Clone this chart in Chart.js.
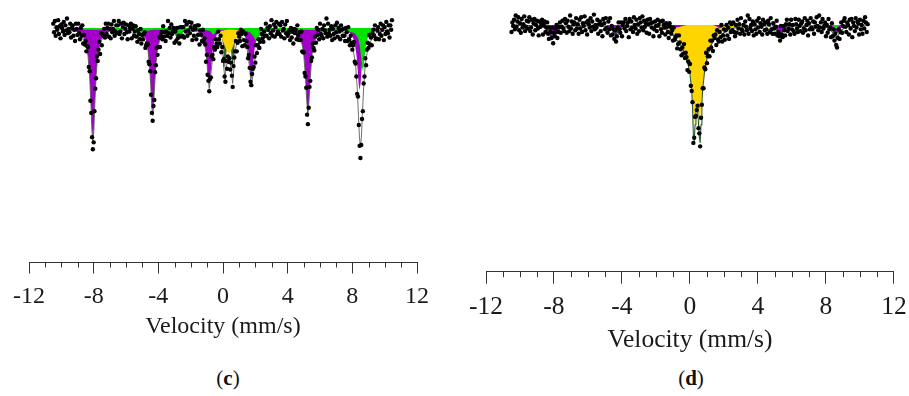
<!DOCTYPE html>
<html><head><meta charset="utf-8">
<script src="https://cdn.jsdelivr.net/npm/chart.js@4.4.1/dist/chart.umd.min.js"></script>
<style>
html,body{margin:0;padding:0;background:#fff;width:909px;height:396px;overflow:hidden;position:relative;}
canvas{position:absolute;top:0;}
#cc{left:0;}
#cd{left:455px;}
.cap{position:absolute;font-family:'Liberation Serif','Times New Roman',serif;font-size:21px;color:#111;transform:translate(-50%,-50%);white-space:nowrap;}
</style></head><body>
<canvas id="cc" width="450" height="360"></canvas>
<canvas id="cd" width="460" height="360"></canvas>
<div class="cap" style="left:228px;top:378px">(<b>c</b>)</div>
<div class="cap" style="left:691px;top:378px">(<b>d</b>)</div>
<script>
// ---- tick labels (mm/s) ----
const majorTicks = [-12, -8, -4, 0, 4, 8, 12];

// ---- channel velocities (mm/s), shared by both spectra ----
const velocity = [
-10.5,-10.45,-10.4,-10.35,-10.3,-10.25,-10.2,-10.15,-10.1,-10.05,-10,-9.95,-9.9,-9.85,-9.8,-9.75,-9.7,-9.65,-9.6,-9.55,
-9.5,-9.45,-9.4,-9.35,-9.3,-9.25,-9.2,-9.15,-9.1,-9.05,-9,-8.95,-8.9,-8.85,-8.8,-8.75,-8.7,-8.65,-8.6,-8.55,
-8.5,-8.45,-8.4,-8.35,-8.3,-8.25,-8.2,-8.15,-8.1,-8.05,-8,-7.95,-7.9,-7.85,-7.8,-7.75,-7.7,-7.65,-7.6,-7.55,
-7.5,-7.45,-7.4,-7.35,-7.3,-7.25,-7.2,-7.15,-7.1,-7.05,-7,-6.95,-6.9,-6.85,-6.8,-6.75,-6.7,-6.65,-6.6,-6.55,
-6.5,-6.45,-6.4,-6.35,-6.3,-6.25,-6.2,-6.15,-6.1,-6.05,-6,-5.95,-5.9,-5.85,-5.8,-5.75,-5.7,-5.65,-5.6,-5.55,
-5.5,-5.45,-5.4,-5.35,-5.3,-5.25,-5.2,-5.15,-5.1,-5.05,-5,-4.95,-4.9,-4.85,-4.8,-4.75,-4.7,-4.65,-4.6,-4.55,
-4.5,-4.45,-4.4,-4.35,-4.3,-4.25,-4.2,-4.15,-4.1,-4.05,-4,-3.95,-3.9,-3.85,-3.8,-3.75,-3.7,-3.65,-3.6,-3.55,
-3.5,-3.45,-3.4,-3.35,-3.3,-3.25,-3.2,-3.15,-3.1,-3.05,-3,-2.95,-2.9,-2.85,-2.8,-2.75,-2.7,-2.65,-2.6,-2.55,
-2.5,-2.45,-2.4,-2.35,-2.3,-2.25,-2.2,-2.15,-2.1,-2.05,-2,-1.95,-1.9,-1.85,-1.8,-1.75,-1.7,-1.65,-1.6,-1.55,
-1.5,-1.45,-1.4,-1.35,-1.3,-1.25,-1.2,-1.15,-1.1,-1.05,-1,-0.95,-0.9,-0.85,-0.8,-0.75,-0.7,-0.65,-0.6,-0.55,
-0.5,-0.45,-0.4,-0.35,-0.3,-0.25,-0.2,-0.15,-0.1,-0.05,0,0.05,0.1,0.15,0.2,0.25,0.3,0.35,0.4,0.45,
0.5,0.55,0.6,0.65,0.7,0.75,0.8,0.85,0.9,0.95,1,1.05,1.1,1.15,1.2,1.25,1.3,1.35,1.4,1.45,
1.5,1.55,1.6,1.65,1.7,1.75,1.8,1.85,1.9,1.95,2,2.05,2.1,2.15,2.2,2.25,2.3,2.35,2.4,2.45,
2.5,2.55,2.6,2.65,2.7,2.75,2.8,2.85,2.9,2.95,3,3.05,3.1,3.15,3.2,3.25,3.3,3.35,3.4,3.45,
3.5,3.55,3.6,3.65,3.7,3.75,3.8,3.85,3.9,3.95,4,4.05,4.1,4.15,4.2,4.25,4.3,4.35,4.4,4.45,
4.5,4.55,4.6,4.65,4.7,4.75,4.8,4.85,4.9,4.95,5,5.05,5.1,5.15,5.2,5.25,5.3,5.35,5.4,5.45,
5.5,5.55,5.6,5.65,5.7,5.75,5.8,5.85,5.9,5.95,6,6.05,6.1,6.15,6.2,6.25,6.3,6.35,6.4,6.45,
6.5,6.55,6.6,6.65,6.7,6.75,6.8,6.85,6.9,6.95,7,7.05,7.1,7.15,7.2,7.25,7.3,7.35,7.4,7.45,
7.5,7.55,7.6,7.65,7.7,7.75,7.8,7.85,7.9,7.95,8,8.05,8.1,8.15,8.2,8.25,8.3,8.35,8.4,8.45,
8.5,8.55,8.6,8.65,8.7,8.75,8.8,8.85,8.9,8.95,9,9.05,9.1,9.15,9.2,9.25,9.3,9.35,9.4,9.45,
9.5,9.55,9.6,9.65,9.7,9.75,9.8,9.85,9.9,9.95,10,10.05,10.1,10.15,10.2,10.25,10.3,10.35,10.4,10.45
];

// ---- measured relative transmission (%), spectrum (c) ----
const transmissionC = [
100.5,99.5,100.8,99.1,100.1,99.8,100.9,99.3,100.2,98.8,100.4,100.0,99.6,100.7,99.2,100.3,99.7,101.1,99.4,99.9,
99.5,100.5,98.9,100.0,100.3,99.1,99.8,98.5,100.5,99.9,99.2,100.5,99.4,98.7,100.0,99.1,100.3,98.2,99.2,98.1,
98.5,97.3,97.9,97.8,95.5,95.0,91.6,90.2,87.4,86.0,86.8,90.4,93.0,94.2,96.7,96.2,97.5,98.4,97.0,99.4,
98.0,99.3,99.1,99.9,98.9,100.5,99.3,100.0,100.5,99.0,99.9,98.8,100.4,99.5,99.9,100.8,99.1,99.6,100.3,99.4,
100.3,100.8,99.3,99.6,100.5,98.8,100.1,100.6,99.3,99.9,100.4,99.5,98.7,100.3,99.6,100.0,100.5,98.8,99.9,100.3,
99.1,99.6,100.2,99.0,98.4,99.7,99.3,98.7,99.9,98.2,99.2,98.7,99.3,99.5,97.7,98.0,98.2,98.1,96.1,95.8,
95.0,92.3,90.2,89.3,91.0,91.7,94.9,95.7,97.7,96.9,97.8,98.9,97.8,99.1,99.5,98.7,100.2,99.0,99.5,98.5,
99.6,99.1,100.8,99.4,100.0,98.9,100.4,99.3,99.6,100.0,98.3,99.6,98.5,100.0,98.8,99.1,98.2,100.1,99.0,100.1,
99.1,100.1,98.9,100.8,99.6,100.4,99.1,99.7,100.7,99.4,100.1,100.6,98.6,99.8,99.1,100.2,99.9,98.7,100.3,99.2,
100.3,98.1,99.7,99.2,98.5,99.8,98.4,98.8,98.1,96.1,96.9,94.6,93.9,92.7,94.1,94.3,96.7,96.9,96.4,97.8,
97.5,98.7,98.2,97.8,99.6,98.7,98.2,99.1,97.2,97.8,96.2,96.4,94.4,93.8,96.2,95.3,96.7,96.1,96.5,95.2,
96.0,94.5,93.2,95.6,96.6,97.3,98.5,97.3,98.3,99.4,99.0,98.5,99.8,99.3,97.9,99.6,98.6,98.0,99.3,98.5,
97.8,96.5,96.9,95.4,93.8,93.4,94.7,95.3,95.5,96.7,96.0,98.0,97.1,98.0,98.7,97.7,98.4,99.9,99.3,98.8,
98.4,99.6,99.1,100.5,99.1,100.0,99.8,98.8,100.2,99.4,100.9,99.1,99.7,100.4,99.0,100.1,100.7,99.3,99.6,100.5,
99.3,100.3,99.0,100.7,99.7,99.9,98.8,100.4,99.4,100.8,99.1,99.4,99.7,98.6,100.0,98.9,99.6,98.2,99.9,99.4,
99.8,98.7,100.3,99.1,98.6,99.5,98.6,99.6,97.3,97.2,97.2,94.8,94.4,93.1,90.0,88.9,90.8,93.2,93.9,96.2,
96.6,98.2,97.7,97.4,99.0,98.3,100.0,99.2,99.8,98.7,100.5,99.3,99.1,99.9,98.8,100.3,99.7,99.4,101.1,99.0,
100.5,99.4,99.8,99.1,100.2,98.6,99.9,99.3,98.8,100.3,99.5,100.6,99.0,100.0,99.6,98.7,100.3,99.8,99.1,99.9,
99.1,98.5,100.0,99.5,98.5,100.1,98.7,98.0,99.1,98.3,97.5,98.0,98.4,96.1,95.9,94.4,92.4,92.1,88.8,86.4,
85.0,86.5,89.5,90.4,93.6,94.4,96.5,95.7,97.5,98.3,97.7,99.2,98.1,98.9,98.0,99.4,99.8,99.1,100.3,98.7,
98.8,99.7,100.1,98.7,99.3,100.5,99.1,99.8,100.3,98.6,100.1,99.3,100.7,99.6,99.4,100.3,98.9,100.3,99.8,100.9
];

// ---- measured relative transmission (%), spectrum (d) ----
const transmissionD = [
99.2,100.3,99.9,100.6,99.5,101.1,99.8,100.4,100.9,99.4,100.2,99.1,100.7,99.7,100.1,101.0,99.3,99.8,100.5,99.6,
100.4,100.9,99.3,99.7,100.6,98.9,100.2,100.7,99.4,100.0,100.5,99.6,98.8,100.4,99.8,100.2,100.6,98.9,100.0,100.4,
99.2,99.7,100.3,99.0,98.4,99.7,99.2,98.5,99.7,97.9,99.1,98.7,99.6,100.0,98.5,99.2,99.8,100.3,99.1,99.8,
100.5,99.6,99.3,100.7,100.2,99.1,100.5,99.8,99.3,101.1,99.6,100.4,99.0,100.1,100.3,99.4,100.8,99.6,100.1,99.0,
100.6,99.6,100.9,99.2,100.2,99.9,101.0,99.4,100.3,98.9,100.5,100.1,99.7,100.8,99.3,100.4,99.8,101.2,99.5,100.0,
99.7,100.6,99.0,100.1,100.4,99.3,100.0,98.7,100.7,100.2,99.5,100.8,99.7,99.1,100.4,99.5,100.8,98.8,99.9,98.9,
99.5,98.4,99.4,98.1,98.7,99.7,100.3,99.5,99.1,100.3,98.7,100.0,100.3,99.6,100.7,99.3,99.9,100.3,98.6,100.7,
99.5,100.4,99.7,99.2,100.9,100.0,99.6,100.6,99.0,100.1,99.3,100.8,100.3,99.7,101.0,99.4,100.5,99.8,100.2,99.1,
100.6,100.1,99.0,100.7,100.2,99.7,100.3,98.7,99.5,100.4,99.9,99.3,100.6,100.0,98.7,100.4,99.5,99.1,100.5,100.0,
99.7,98.9,100.2,99.8,99.2,98.5,100.2,99.8,99.0,99.4,98.2,99.7,98.3,98.6,98.8,97.3,97.8,98.8,98.0,97.2,
96.5,97.4,96.7,97.8,96.2,96.8,96.3,94.8,95.8,94.6,95.5,93.0,92.4,91.1,86.4,87.0,89.4,89.5,90.2,90.7,
88.1,87.5,86.0,89.3,90.8,92.7,92.7,95.1,94.9,96.8,95.6,96.4,97.2,96.4,98.2,97.4,98.2,97.0,98.8,98.5,
98.9,97.7,99.4,98.3,98.1,99.2,98.6,100.0,98.1,98.8,99.5,98.3,99.4,100.0,98.8,99.7,98.4,100.3,99.2,100.1,
99.4,100.3,99.2,98.7,100.0,99.1,100.6,99.6,100.1,99.0,100.8,99.5,99.3,100.0,98.9,100.4,99.8,99.4,101.1,99.0,
100.7,99.6,100.0,99.3,100.4,98.8,100.1,99.5,99.0,100.5,99.7,100.8,99.2,100.2,99.8,98.9,100.6,100.1,99.4,100.3,
99.5,99.0,100.5,100.1,99.2,100.8,99.5,99.0,100.2,99.6,99.0,99.8,100.5,98.8,99.2,98.7,98.2,99.9,98.9,98.6,
99.9,99.4,98.8,100.1,100.6,99.3,99.6,100.1,98.9,100.6,99.5,100.0,99.3,99.0,100.7,100.1,99.6,99.2,100.6,99.9,
99.3,100.2,100.4,99.1,99.6,100.8,99.4,100.0,100.5,98.8,100.2,99.5,100.8,99.7,99.5,100.4,99.0,100.3,99.8,100.9,
99.9,99.4,101.1,99.7,100.3,99.2,100.7,99.6,99.9,100.3,98.7,100.0,99.1,100.7,99.5,99.7,98.6,100.2,98.7,99.5,
98.2,99.0,97.7,97.4,98.5,99.5,98.4,99.2,100.3,99.1,99.9,100.5,100.8,99.8,99.2,100.3,100.0,98.9,100.6,99.6,
100.7,98.6,100.3,99.9,99.3,100.8,99.7,100.4,100.2,98.9,100.6,99.5,100.0,99.0,100.5,99.6,100.9,100.3,99.2,100.1
];

// ---- fitted sub-spectra, [velocity, transmission %] ----
const magentaC = [
[-9.6,100],[-9.25,99.75],[-8.75,99.28],[-8.5,98.39],[-8.35,96.87],[-8.25,94.59],[-8.17,91.4],[-8.11,88.53],[-8.05,87.1],[-7.99,88.53],[-7.93,91.4],[-7.85,94.59],[-7.75,96.87],[-7.6,98.39],[-7.35,99.28],[-6.85,99.75],[-6.5,100],
[-5.9,100],[-5.55,99.81],[-5.05,99.46],[-4.8,98.79],[-4.65,97.64],[-4.55,95.94],[-4.47,93.53],[-4.41,91.38],[-4.35,90.3],[-4.29,91.38],[-4.23,93.53],[-4.15,95.94],[-4.05,97.64],[-3.9,98.79],[-3.65,99.46],[-3.15,99.81],[-2.8,100],
[-2.4,100],[-2.05,99.87],[-1.55,99.63],[-1.3,99.17],[-1.15,98.4],[-1.05,97.23],[-0.97,95.6],[-0.91,94.13],[-0.85,93.4],[-0.79,94.13],[-0.73,95.6],[-0.65,97.23],[-0.55,98.4],[-0.4,99.17],[-0.15,99.63],[0.35,99.87],[0.45,100],
[0.5,100],[0.55,99.88],[1.05,99.67],[1.3,99.25],[1.45,98.54],[1.55,97.49],[1.63,96.0],[1.69,94.67],[1.75,94.0],[1.81,94.67],[1.87,96.0],[1.95,97.49],[2.05,98.54],[2.2,99.25],[2.45,99.67],[2.95,99.88],[3.3,100],
[3.7,100],[4.05,99.81],[4.55,99.46],[4.8,98.79],[4.95,97.64],[5.05,95.94],[5.13,93.53],[5.19,91.38],[5.25,90.3],[5.31,91.38],[5.37,93.53],[5.45,95.94],[5.55,97.64],[5.7,98.79],[5.95,99.46],[6.45,99.81],[6.8,100],
[6.9,100],[7.25,99.86],[7.75,99.6],[8.0,99.1],[8.15,98.25],[8.25,96.98],[8.33,95.2],[8.39,93.6],[8.45,92.8],[8.51,93.6],[8.57,95.2],[8.65,96.98],[8.75,98.25],[8.9,99.1],[9.15,99.6],[9.65,99.86],[10.0,100]
];
const greenC = [
[-8.7,100],[-8.6,99.8],[-5.9,99.8],[-5.5,99.68],[-5.25,99.44],[-5.1,99.2],[-4.95,99.44],[-4.7,99.68],[-4.3,99.8],
[-3.6,99.8],[-3.18,99.6],[-2.98,99.3],[-2.78,98.8],[-2.58,99.3],[-2.38,99.6],[-1.98,99.8],
[-1.2,99.8],[-0.8,99.65],[-0.6,99.2],[-0.4,99.65],[0.0,99.8],
[1.25,99.8],[1.66,99.5],[1.86,99.1],[2.06,98.4],[2.26,99.1],[2.46,99.5],[2.86,99.8],
[3.6,99.8],[4.0,99.6],[4.2,99.4],[4.4,99.6],[4.8,99.8],
[7.65,99.69],[8.15,99.4],[8.35,98.84],[8.45,98.07],[8.55,96.48],[8.6,95.48],[8.65,95.0],[8.7,95.48],[8.75,96.48],[8.85,98.07],[8.95,98.84],[9.15,99.4],[9.3,99.6],[9.35,100]
];
const yellowC = [
[-1.2,100],[-0.83,99.86],[-0.5,99.7],[-0.25,99.35],[-0.05,98.7],[0.12,97.9],[0.25,97.3],[0.37,97.0],[0.49,97.3],[0.62,97.9],[0.79,98.7],[0.99,99.35],[1.24,99.7],[1.57,99.86],[1.95,100]
];
const darkGreenC = [
[-0.5,99.85],[-0.25,99.63],[-0.1,99.14],[0,98.04],[0.06,96.54],[0.12,95.31],[0.18,96.45],[0.26,98.12],[0.36,98.67],[0.46,98.12],[0.54,96.45],[0.6,95.31],[0.66,96.54],[0.72,98.04],[0.82,99.14],[0.97,99.63],[1.22,99.85]
];
const totalC = [
[-10.5,100],[-9.0,99.6],[-8.5,98.34],[-8.35,96.77],[-8.25,94.43],[-8.17,91.1],[-8.11,88.2],[-8.05,86.7],[-7.99,88.2],[-7.93,91.1],[-7.85,94.43],[-7.75,96.77],[-7.6,98.34],[-7.1,99.6],[-6.0,99.8],
[-5.1,98.9],[-4.8,98.45],[-4.65,97.55],[-4.55,95.8],[-4.47,93.3],[-4.41,91.0],[-4.35,89.9],[-4.29,91.0],[-4.23,93.3],[-4.15,95.8],[-4.05,97.55],[-3.9,98.7],[-3.5,99.55],
[-3.1,99.55],[-2.8,98.9],[-2.5,99.6],[-2.0,99.78],[-1.5,99.5],
[-1.15,98.3],[-1.05,97.1],[-0.97,95.5],[-0.91,94.0],[-0.85,93.0],[-0.79,93.8],[-0.73,95.0],[-0.65,96.5],[-0.55,97.6],[-0.45,98.2],[-0.3,98.57],[-0.1,98.1],
[0.0,96.8],[0.05,95.5],[0.12,94.0],[0.19,95.4],[0.28,96.2],[0.36,96.3],[0.45,96.0],[0.53,94.7],[0.6,93.6],[0.67,95.2],[0.75,97.4],[0.9,98.6],[1.2,98.9],
[1.45,98.1],[1.6,96.2],[1.68,94.6],[1.75,93.4],[1.82,94.1],[1.9,95.65],[2.05,97.0],[2.3,98.84],[2.7,99.6],
[3.8,99.8],[4.2,99.35],[4.45,99.43],[4.7,99.1],[4.9,98.05],[5.0,96.8],[5.1,94.3],[5.18,91.6],[5.25,89.8],[5.32,91.6],[5.4,94.3],[5.5,96.8],[5.6,98.05],[5.8,99.1],[6.3,99.75],
[7.5,99.5],[8.0,98.1],[8.2,95.8],[8.3,93.15],[8.38,89.9],[8.44,87.4],[8.5,86.3],[8.56,87.4],[8.62,89.9],[8.7,93.15],[8.8,95.8],[9.0,98.1],[9.5,99.5],[10.45,99.85]
];

const magentaD = [
[-8.72,100],[-8.5,99.55],[-8.33,99.05],[-8.19,98.6],[-8.07,98.3],[-7.95,98.6],[-7.81,99.05],[-7.64,99.55],[-7.42,100],
[-4.92,100],[-4.72,99.68],[-4.57,99.3],[-4.45,99.0],[-4.37,98.8],[-4.29,99.0],[-4.17,99.3],[-4.02,99.68],[-3.82,100],
[-1.4,100],[-1.1,99.85],[-0.95,99.75],[-0.8,99.7],[-0.65,99.75],[-0.5,99.85],[-0.2,100],
[1.35,100],[1.55,99.85],[1.66,99.72],[1.76,99.6],[1.86,99.72],[1.97,99.85],[2.17,100],
[4.78,100],[4.98,99.68],[5.13,99.3],[5.25,99.0],[5.32,98.8],[5.39,99.0],[5.51,99.3],[5.66,99.68],[5.86,100],
[8.02,100],[8.23,99.68],[8.38,99.3],[8.5,99.0],[8.57,98.8],[8.64,99.0],[8.76,99.3],[8.91,99.68],[9.12,100]
];
const greenD = [
[8.28,100],[8.45,99.8],[8.57,99.45],[8.7,99.8],[8.87,100]
];
const yellowD = [
[-3.0,99.94],[-2.0,99.83],[-1.5,99.65],[-1.0,99.19],[-0.7,98.62],[-0.55,97.92],[-0.4,97.23],[-0.2,96.19],[0.0,94.46],[0.1,93.08],[0.17,90.5],[0.23,88.2],[0.3,89.6],[0.4,91.3],[0.5,89.6],[0.58,88.2],[0.65,90.6],[0.75,93.3],[0.85,94.7],[1.0,96.1],[1.3,97.9],[1.55,98.6],[1.85,99.2],[2.4,99.6],[3.0,99.83],[4.0,99.94]
];
const totalD = [
[-10.5,100],[-9.0,99.92],[-8.5,99.67],[-8.3,99.3],[-8.15,98.8],[-8.05,98.6],[-7.95,98.8],[-7.8,99.3],[-7.6,99.67],[-7.0,99.93],
[-5.0,99.87],[-4.6,99.5],[-4.45,99.14],[-4.35,99.0],[-4.25,99.14],[-4.1,99.5],[-3.7,99.87],
[-2.5,99.88],[-2.0,99.78],[-1.5,99.59],[-1.2,99.25],[-1.0,98.9],[-0.8,98.28],[-0.65,98.03],[-0.5,97.5],[-0.3,96.65],[-0.1,95.34],[0.0,94.3],[0.1,92.5],[0.15,90.5],[0.2,87.2],[0.25,86.7],[0.3,88.5],[0.35,90.0],[0.4,90.4],[0.45,90.0],[0.5,88.7],[0.55,87.1],[0.6,86.4],[0.65,88.5],[0.7,91.0],[0.75,92.6],[0.85,94.5],[1.0,96.1],[1.2,97.5],[1.4,98.3],[1.55,98.4],[1.75,98.63],[1.95,99.05],[2.2,99.4],[2.6,99.65],[3.2,99.8],[4.0,99.9],
[4.6,99.89],[5.0,99.59],[5.15,99.26],[5.3,99.0],[5.45,99.26],[5.6,99.59],[6.0,99.89],
[7.6,99.91],[8.1,99.7],[8.3,99.39],[8.45,98.9],[8.6,98.5],[8.75,98.9],[8.9,99.39],[9.1,99.7],[9.6,99.91],[10.45,100]
];

// ---- colours ----
const COLORS = { magenta:'#a300cc', green:'#00e400', yellow:'#ffd500', darkGreen:'#2f6b2f', pts:'#000000', axis:'#333333', text:'#1a1a1a' };

const toXY = arr => arr.map(p => ({x:p[0], y:p[1]}));
const pointsOf = (vel, t) => vel.map((v,i) => ({x:v, y:t[i]}));

const minorTicks = {
  id:'minorTicks',
  afterDraw(chart, args, opts){
    const s = chart.scales.x, ctx = chart.ctx;
    ctx.save(); ctx.strokeStyle = opts.color; ctx.lineWidth = 1;
    s.ticks.forEach(t => {
      if (!majorTicks.includes(t.value)) {
        const x = Math.round(s.getPixelForValue(t.value)) + 0.5;
        ctx.beginPath(); ctx.moveTo(x, s.top); ctx.lineTo(x, s.top + opts.length); ctx.stroke();
      }
    });
    ctx.restore();
  }
};

function fillSet(data, color){
  return {data: toXY(data), showLine:true, pointRadius:0, borderWidth:0, borderColor:'rgba(0,0,0,0)', backgroundColor:color, fill:{value:100}, tension:0};
}

function makeChart(id, cfg){
  const datasets = [
    {data: pointsOf(velocity, cfg.trans), showLine:false, pointRadius:2.2, pointBackgroundColor:COLORS.pts, pointBorderWidth:0},
    {data: toXY(cfg.total), showLine:true, pointRadius:0, borderWidth:cfg.fitWidth, borderColor:cfg.fitColor, fill:false, tension:0},
  ];
  if (cfg.green) datasets.push(fillSet(cfg.green, COLORS.green));
  datasets.push(fillSet(cfg.magenta, COLORS.magenta));
  datasets.push(fillSet(cfg.yellow, COLORS.yellow));
  if (cfg.darkGreen) datasets.push(fillSet(cfg.darkGreen, COLORS.darkGreen));
  return new Chart(document.getElementById(id), {
    type:'scatter',
    data:{datasets},
    plugins:[minorTicks],
    options:{
      responsive:false, animation:false, events:[],
      layout:{padding:cfg.padding},
      plugins:{legend:{display:false}, tooltip:{enabled:false}, minorTicks:{length:cfg.minorLen, color:COLORS.axis}},
      scales:{
        x:{type:'linear', min:-12, max:12, position:'bottom',
          ticks:{stepSize:1, autoSkip:false, maxRotation:0, minRotation:0, padding:cfg.tickPad, color:COLORS.text,
            font:{family:"'Liberation Serif','Times New Roman',serif", size:cfg.font},
            callback:v => majorTicks.includes(v) ? String(v) : ''},
          grid:{display:true, drawOnChartArea:false, drawTicks:true, tickLength:cfg.majorLen,
            tickColor:ctx => (ctx.tick && majorTicks.includes(ctx.tick.value)) ? COLORS.axis : 'rgba(0,0,0,0)'},
          border:{display:true, color:COLORS.axis, width:1},
          title:{display:true, text:'Velocity (mm/s)', color:COLORS.text, padding:cfg.titlePad,
            font:{family:"'Liberation Serif','Times New Roman',serif", size:cfg.font}}
        },
        y:{display:false, min:cfg.ymin, max:cfg.ymax}
      }
    }
  });
}

makeChart('cc', {trans:transmissionC, total:totalC, green:greenC, magenta:magentaC, yellow:yellowC, darkGreen:darkGreenC,
  fitColor:'#4a4a4a', fitWidth:0.8, padding:{left:29, right:33, top:5, bottom:16.8},
  font:24, tickPad:8.5, majorLen:11, minorLen:5, titlePad:{top:-6.9, bottom:2}, ymin:72.94, ymax:102.65});

makeChart('cd', {trans:transmissionD, total:totalD, green:greenD, magenta:magentaD, yellow:yellowD, darkGreen:null,
  fitColor:'#2b5a2b', fitWidth:1.1, padding:{left:31, right:18, top:5, bottom:2.8},
  font:25.5, tickPad:8.3, majorLen:12, minorLen:5.5, titlePad:{top:-6.3, bottom:2}, ymin:71.54, ymax:102.31});
</script>
</body></html>
